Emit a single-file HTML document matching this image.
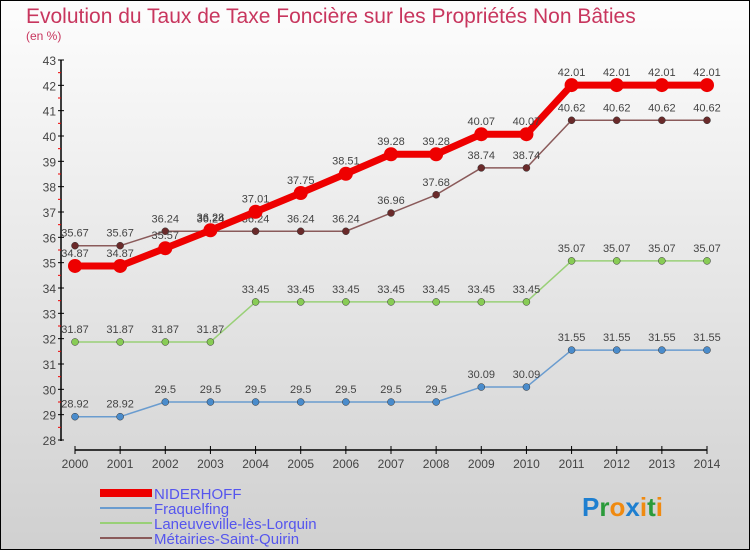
<!DOCTYPE html>
<html><head><meta charset="utf-8"><style>
body{margin:0;}
#c{width:750px;height:550px;position:relative;overflow:hidden;}
svg text{font-family:"Liberation Sans",sans-serif;}
</style></head><body>
<div id="c">
<svg id="s" width="750" height="550" xmlns="http://www.w3.org/2000/svg">
<defs><linearGradient id="bg" x1="0" y1="0" x2="0" y2="1"><stop offset="0" stop-color="#fdfdfd"/><stop offset="1" stop-color="#d0d0d0"/></linearGradient></defs>
<rect x="0.5" y="0.5" width="749" height="549" fill="url(#bg)" stroke="#000"/>
<text x="26" y="23" font-size="21" fill="#c8365e">Evolution du Taux de Taxe Foncière sur les Propriétés Non Bâties</text>
<text x="26" y="40" font-size="12" fill="#c8365e">(en %)</text>
<g id="axes"></g><g id="series"></g>
<g>
<rect x="100" y="489" width="52" height="8" fill="#e00"/>
<text x="154" y="499" font-size="15" fill="#5555ee">NIDERHOFF</text>
<rect x="100" y="507" width="52" height="2" fill="#6a9ccf"/>
<text x="154" y="514" font-size="15" fill="#5555ee">Fraquelfing</text>
<rect x="100" y="522" width="52" height="2" fill="#99d077"/>
<text x="154" y="529" font-size="15" fill="#5555ee">Laneuveville-lès-Lorquin</text>
<rect x="100" y="537" width="52" height="2" fill="#8a5a5a"/>
<text x="154" y="544" font-size="15" fill="#5555ee">Métairies-Saint-Quirin</text>
</g>
<text x="582" y="516" font-size="26" font-weight="bold"><tspan fill="#1e7fd0">P</tspan><tspan fill="#2a9a3a">r</tspan><tspan fill="#f08a10">o</tspan><tspan fill="#1e7fd0">x</tspan><tspan fill="#f08a10">i</tspan><tspan fill="#2a9a3a">t</tspan><tspan fill="#f08a10">i</tspan></text>
</svg></div>
<script>
const years=[2000,2001,2002,2003,2004,2005,2006,2007,2008,2009,2010,2011,2012,2013,2014];
const yTicks=[28,29,30,31,32,33,34,35,36,37,38,39,40,41,42,43];
const niderhoff=[34.87,34.87,35.57,36.28,37.01,37.75,38.51,39.28,39.28,40.07,40.07,42.01,42.01,42.01,42.01];
const fraquelfing=[28.92,28.92,29.5,29.5,29.5,29.5,29.5,29.5,29.5,30.09,30.09,31.55,31.55,31.55,31.55];
const laneuveville=[31.87,31.87,31.87,31.87,33.45,33.45,33.45,33.45,33.45,33.45,33.45,35.07,35.07,35.07,35.07];
const metairies=[35.67,35.67,36.24,36.24,36.24,36.24,36.24,36.96,37.68,38.74,38.74,40.62,40.62,40.62,40.62];
const NS="http://www.w3.org/2000/svg";
const X=i=>75+i*(707-75)/(years.length-1);
const Y=v=>440-(v-28)*(380/15);
function mk(t,a,p){const e=document.createElementNS(NS,t);for(const k in a)e.setAttribute(k,a[k]);p.appendChild(e);return e;}
const ax=document.getElementById('axes');
const yl=mk('line',{x1:61,y1:60,x2:61,y2:441,stroke:'#000','stroke-width':1.5},ax);


yTicks.forEach(v=>{
 mk('line',{x1:58,y1:Y(v),x2:64,y2:Y(v),stroke:'#000'},ax);
 if(v<43)mk('line',{x1:58,y1:Y(v+0.5),x2:61,y2:Y(v+0.5),stroke:'#e00'},ax);
 const t=mk('text',{x:56,y:Y(v)+5,'font-size':12,fill:'#444','text-anchor':'end'},ax);t.textContent=v;
 
 
});
const xl=mk('line',{x1:75,y1:450,x2:707,y2:450,stroke:'#000','stroke-width':1.5},ax);


years.forEach((y,i)=>{
 mk('line',{x1:X(i),y1:446,x2:X(i),y2:454,stroke:'#000'},ax);
 const t=mk('text',{x:X(i),y:468,'font-size':12,fill:'#444','text-anchor':'middle'},ax);t.textContent=y;
 
 
});
const sg=document.getElementById('series');
function draw(data,color,w,r,dot,name){
 const g=mk('g',{},sg);
 
 
 mk('polyline',{points:data.map((v,i)=>X(i)+','+Y(v)).join(' '),fill:'none',stroke:color,'stroke-width':w,'stroke-linejoin':'round'},g);
 data.forEach((v,i)=>{
  const c=mk('circle',{cx:X(i),cy:Y(v),r:r,fill:dot,stroke:'#333','stroke-width':r>5?0:0.5},g);
  
  
  const t=mk('text',{x:X(i),y:Y(v)-9,'font-size':11,fill:'#444','text-anchor':'middle'},g);t.textContent=v;
  
  
 });
}
draw(fraquelfing,'#6a9ccf',1.5,3.5,'#4a8ccc','series-fraquelfing');
draw(laneuveville,'#99d077',1.5,3.5,'#88cc55','series-laneuveville');
draw(metairies,'#8a5a5a',1.5,3.5,'#6a2a2a','series-metairies');
draw(niderhoff,'#ee0000',7,7,'#ee0000','series-niderhoff');
</script>
</body></html>
